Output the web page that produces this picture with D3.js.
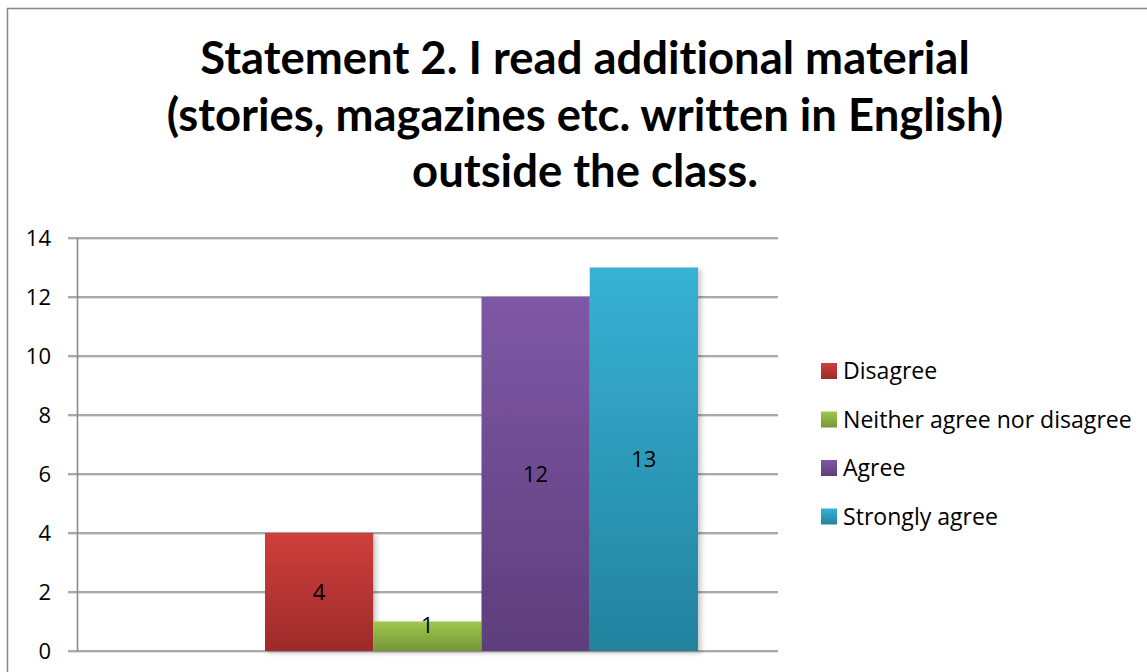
<!DOCTYPE html>
<html>
<head>
<meta charset="utf-8">
<script src="https://cdn.jsdelivr.net/npm/d3@7"></script>
<style>
  html, body { margin: 0; padding: 0; background: #fff; }
  svg { display: block; }
  text { fill: #000; font-variant-ligatures: none; }
  .ttl { font-family: Lato, "Open Sans", sans-serif; }
  .lbl { font-family: "Open Sans", Lato, sans-serif; }
</style>
</head>
<body>
<svg id="chart" width="1147" height="672"></svg>
<script>
// Survey responses for statement 2
const titleLines = [
  "Statement 2. I read additional material",
  "(stories, magazines etc. written in English)",
  "outside the class."
];
const series = ["Disagree", "Neither agree nor disagree", "Agree", "Strongly agree"];
const values = [4, 1, 12, 13];
const yTicks = [0, 2, 4, 6, 8, 10, 12, 14];
const colorsTop = ["#cf3f3b", "#9ec84b", "#7e58a6", "#37b2d5"];
const colorsBottom = ["#9d2b2a", "#75963a", "#5e3e7b", "#23829e"];

const svg = d3.select("#chart");
const W = 1147, H = 672;

// Layout
const plot = { left: 77, right: 778, top: 238, bottom: 651 };
const barsLeft = 265, barsRight = 698;
const labelSize = 22;

const defs = svg.append("defs");
series.forEach((s, i) => {
  const g = defs.append("linearGradient")
    .attr("id", "grad" + i).attr("x1", 0).attr("y1", 0).attr("x2", 0).attr("y2", 1);
  g.append("stop").attr("offset", "0%").attr("stop-color", colorsTop[i]);
  g.append("stop").attr("offset", "100%").attr("stop-color", colorsBottom[i]);
});
const shadow = defs.append("filter").attr("id", "shadow")
  .attr("x", "-10%").attr("y", "-10%").attr("width", "130%").attr("height", "130%");
shadow.append("feDropShadow").attr("dx", 3).attr("dy", 2).attr("stdDeviation", 2.5)
  .attr("flood-color", "#000").attr("flood-opacity", 0.22);

// Chart frame
svg.append("rect")
  .attr("x", 7.5).attr("y", 8.5).attr("width", W + 10).attr("height", H + 10)
  .attr("fill", "#fff").attr("stroke", "#878787").attr("stroke-width", 1.5);

// Title
const titleText = svg.append("g").selectAll("text").data(titleLines).join("text")
  .attr("class", "ttl")
  .attr("x", 585)
  .attr("y", (d, i) => 74 + i * 56.5)
  .attr("text-anchor", "middle")
  .attr("font-weight", "bold")
  .attr("font-size", 44)
  .text(d => d);
// size the title so the longest line spans the intended width
const w2 = titleText.nodes()[1].getComputedTextLength();
titleText.attr("font-size", 44 * 837 / w2);

// Scales
const y = d3.scaleLinear().domain([0, 14]).range([plot.bottom, plot.top]);
const x = d3.scaleBand().domain(series).range([barsLeft, barsRight]).padding(0);

// Gridlines with a faint shadow underneath
const grid = svg.append("g");
grid.selectAll("line.sh").data(yTicks).join("line").attr("class", "sh")
  .attr("x1", plot.left - 9).attr("x2", plot.right)
  .attr("y1", d => y(d) + 1.5).attr("y2", d => y(d) + 1.5)
  .attr("stroke", "#000").attr("stroke-opacity", 0.12).attr("stroke-width", 1.2);
grid.selectAll("line.gl").data(yTicks).join("line").attr("class", "gl")
  .attr("x1", plot.left - 9).attr("x2", plot.right)
  .attr("y1", d => y(d)).attr("y2", d => y(d))
  .attr("stroke", "#8c8c8c").attr("stroke-width", 1.6);

// Y axis
const yAxis = d3.axisLeft(y).tickValues(yTicks).tickSize(0).tickPadding(26);
const ax = svg.append("g").attr("transform", `translate(${plot.left},0)`).call(yAxis);
ax.select(".domain").attr("stroke", "#8c8c8c").attr("stroke-width", 1.6);
ax.selectAll("text").attr("class", "lbl").attr("font-size", labelSize).attr("fill", "#000")
  .attr("font-family", null);

// Bars
svg.append("g").selectAll("rect").data(values).join("rect")
  .attr("x", (d, i) => x(series[i]))
  .attr("width", x.bandwidth())
  .attr("y", d => y(d))
  .attr("height", d => y(0) - y(d))
  .attr("fill", (d, i) => `url(#grad${i})`)
  .attr("filter", "url(#shadow)");

// Data labels
svg.append("g").selectAll("text").data(values).join("text")
  .attr("class", "lbl")
  .attr("x", (d, i) => x(series[i]) + x.bandwidth() / 2)
  .attr("y", d => Math.min((y(d) + y(0)) / 2, y(0) - 26))
  .attr("dy", "0.35em")
  .attr("text-anchor", "middle")
  .attr("font-size", labelSize)
  .text(d => d);

// Legend
const legend = svg.append("g").attr("transform", "translate(821,371)");
const items = legend.selectAll("g").data(series).join("g")
  .attr("transform", (d, i) => `translate(0,${i * 48.5})`);
items.append("rect")
  .attr("x", 0).attr("y", -8).attr("width", 16).attr("height", 16)
  .attr("fill", (d, i) => `url(#grad${i})`);
const legendText = items.append("text")
  .attr("class", "lbl")
  .attr("x", 22).attr("y", 0).attr("dy", "0.35em")
  .attr("font-size", labelSize)
  .text(d => d);
// fit the longest entry to the legend's width
const wl = legendText.nodes()[1].getComputedTextLength();
legendText.attr("font-size", labelSize * 289 / wl);
</script>
</body>
</html>
